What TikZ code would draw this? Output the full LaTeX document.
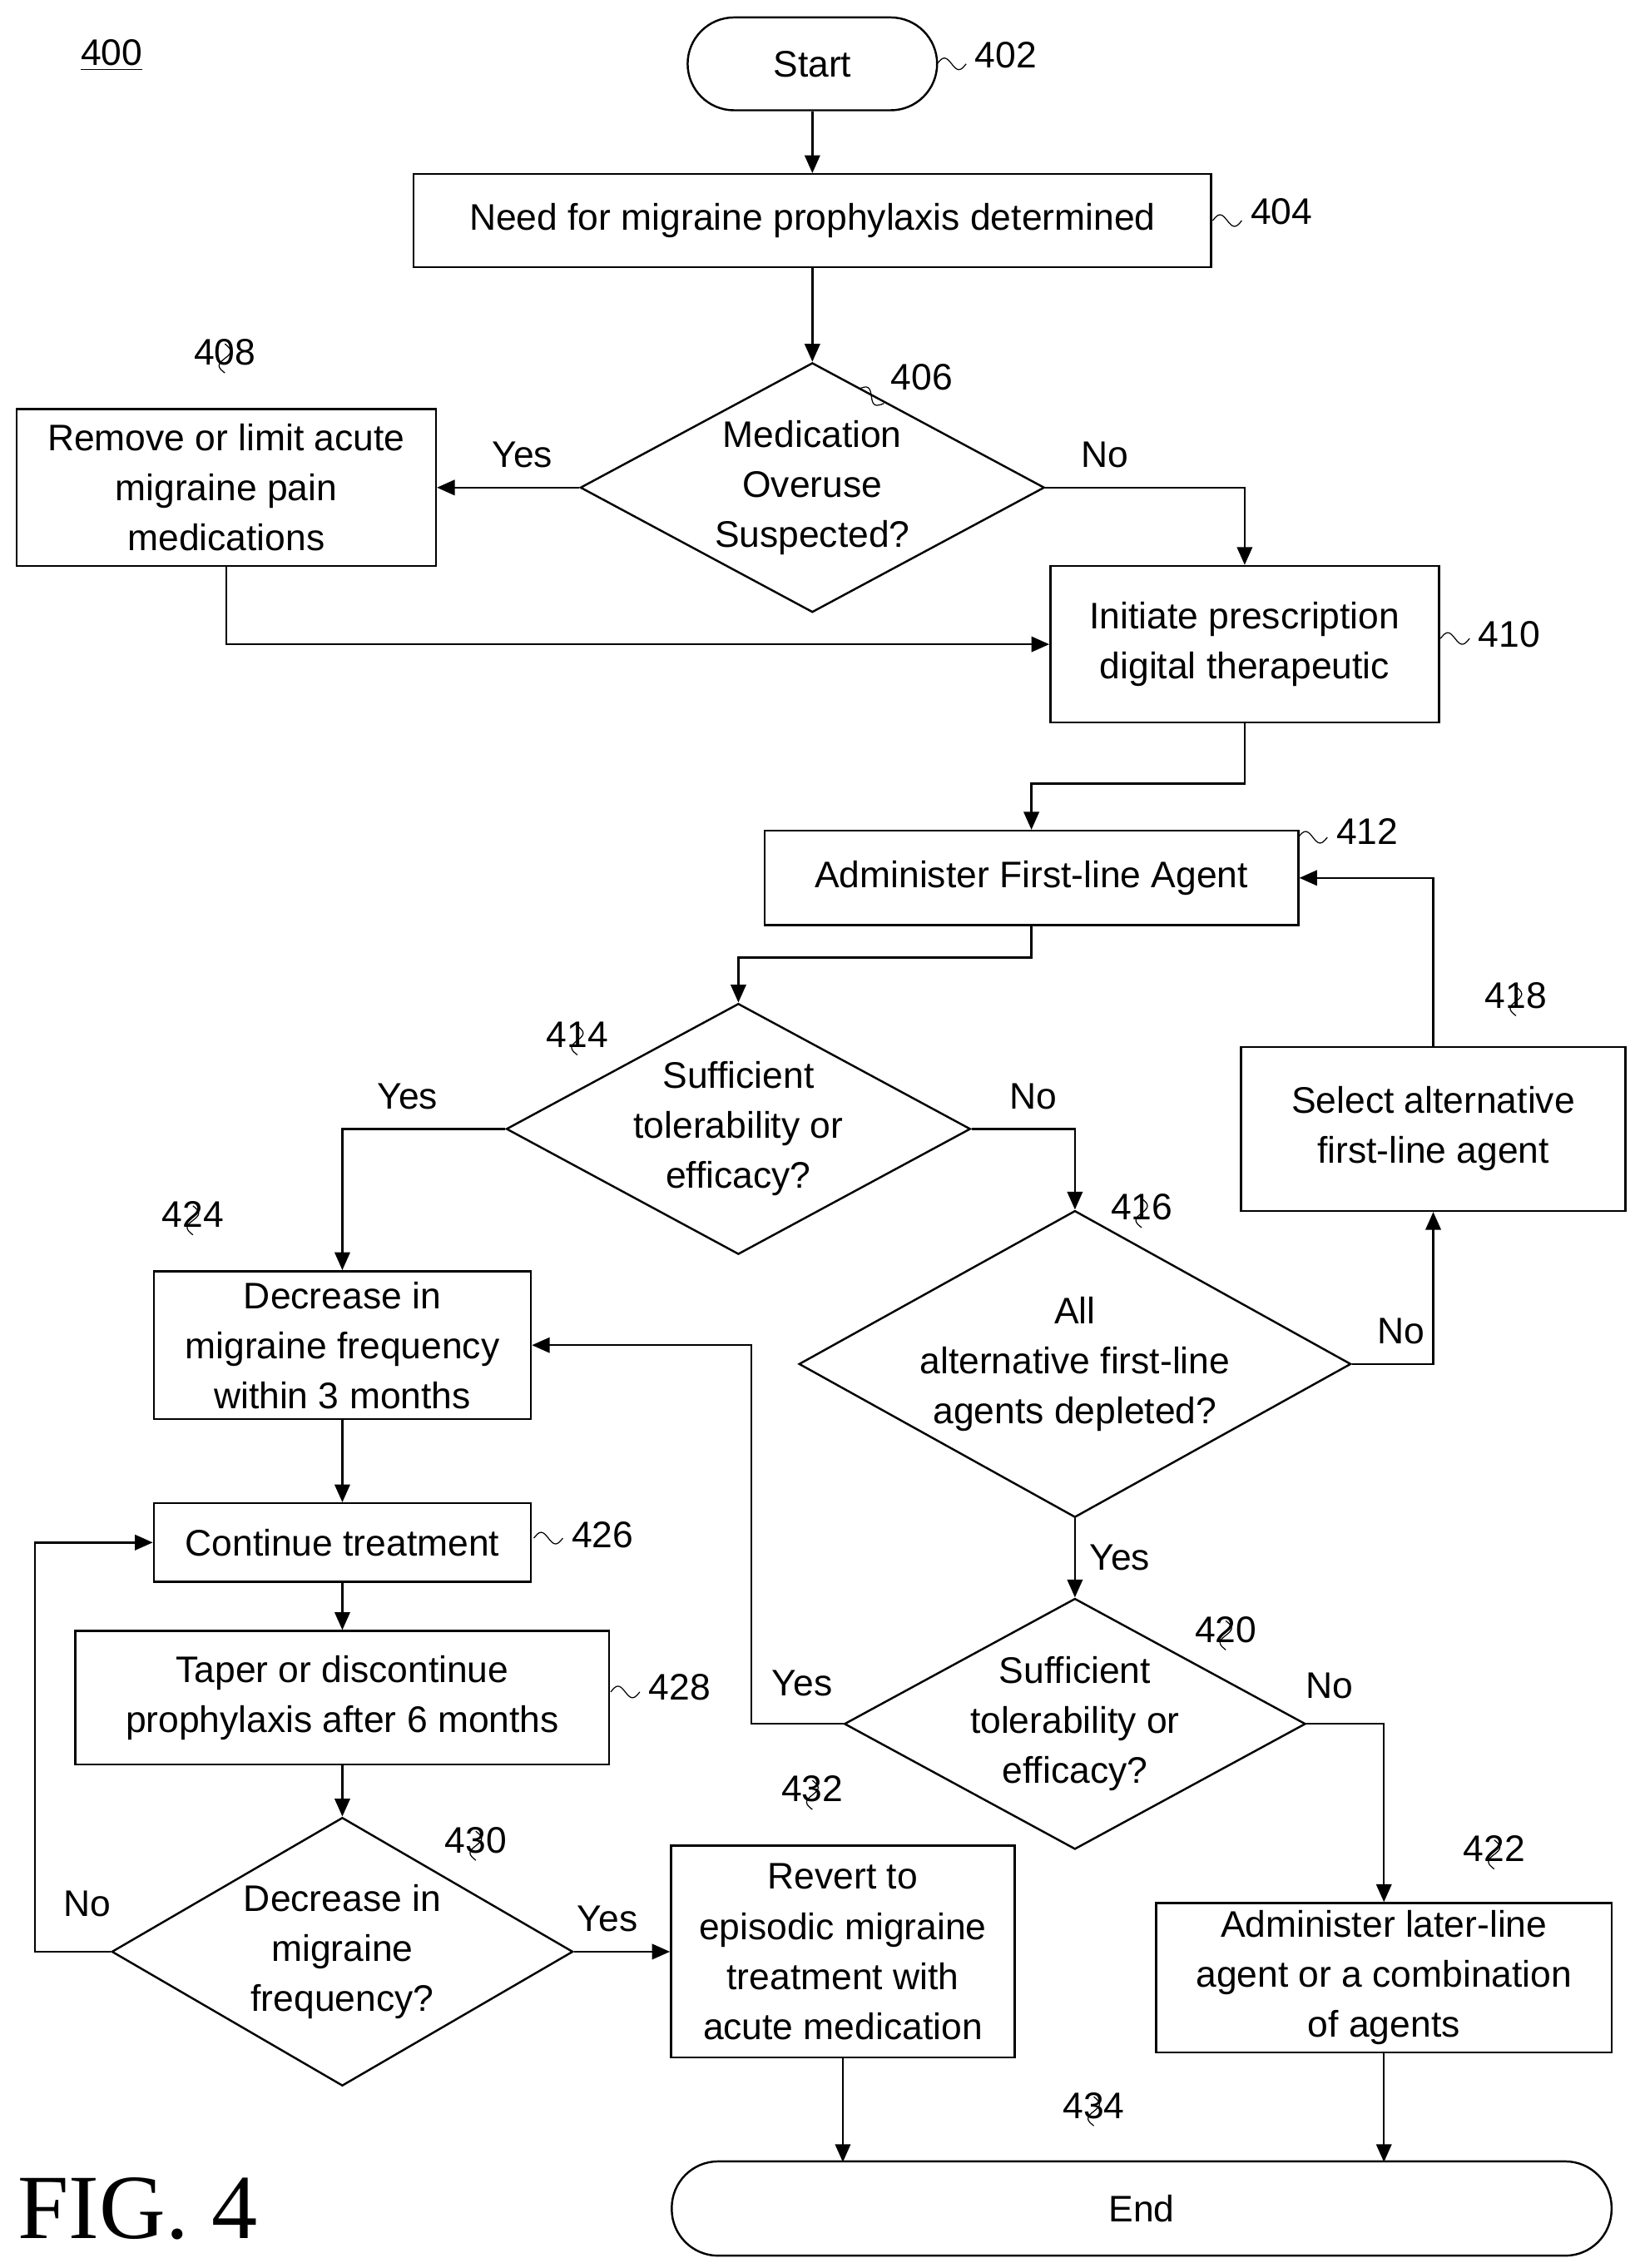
\documentclass[tikz,border=0pt]{standalone}
\usepackage{fontspec}
\setmainfont{Liberation Sans}
\newfontfamily\figfont{Liberation Serif}
\usetikzlibrary{arrows.meta,shapes.geometric}

\tikzset{
  box/.style={draw,thick,align=center,inner sep=0pt},
  dia/.style={draw,thick,diamond,align=center,inner sep=0pt,aspect=1.8},
  term/.style={draw,thick,rounded corners=0.64cm,inner sep=0pt},
  flow/.style={thick,-{Triangle[length=7pt,width=6pt]}},
  sq/.pic={\draw[thin] (0,0) sin (5,-4) cos (10,0) sin (15,4) cos (20,0);}
}

\begin{document}
\begin{tikzpicture}[x=0.02cm,y=-0.02cm,font=\fontsize{14.5}{19.6}\selectfont]
\useasboundingbox (0,0) rectangle (1130,1563);
% terminals and boxes
\node[term,minimum width=3.44cm,minimum height=1.28cm] (start) at (560,44) {Start};
\node[box,minimum width=11cm,minimum height=1.28cm] (need) at (560,152) {Need for migraine prophylaxis determined};
\node[dia,minimum width=6.4cm,minimum height=3.44cm] (overuse) at (560,336) {Medication\\Overuse\\Suspected?};
\node[box,minimum width=5.78cm,minimum height=2.16cm] (remove) at (156,336) {Remove or limit acute\\migraine pain\\medications};
\node[box,minimum width=5.36cm,minimum height=2.16cm] (pdt) at (858,444) {Initiate prescription\\digital therapeutic};
\node[box,minimum width=7.36cm,minimum height=1.3cm] (first) at (711,605) {Administer First-line Agent};
\node[dia,minimum width=6.4cm,minimum height=3.44cm] (tol1) at (509,778) {Sufficient\\tolerability or\\efficacy?};
\node[box,minimum width=5.3cm,minimum height=2.26cm] (alt) at (988,778) {Select alternative\\first-line agent};
\node[dia,minimum width=7cm,minimum height=3.8cm] (depleted) at (741,940) {All\\alternative first-line\\agents depleted?};
\node[box,minimum width=5.2cm,minimum height=2.04cm] (decr) at (236,927) {Decrease in\\migraine frequency\\within 3 months};
\node[box,minimum width=5.2cm,minimum height=1.08cm] (cont) at (236,1063) {Continue treatment};
\node[box,minimum width=7.36cm,minimum height=1.84cm] (taper) at (236,1170) {Taper or discontinue\\prophylaxis after 6 months};
\node[dia,minimum width=6.36cm,minimum height=3.44cm] (tol2) at (741,1188) {Sufficient\\tolerability or\\efficacy?};
\node[dia,minimum width=6.36cm,minimum height=3.7cm] (freq) at (236,1345) {Decrease in\\migraine\\frequency?};
\node[box,minimum width=4.74cm,minimum height=2.92cm] (revert) at (581,1345) {Revert to\\episodic migraine\\treatment with\\acute medication};
\node[box,minimum width=6.28cm,minimum height=2.06cm] (later) at (954,1363) {Administer later-line\\agent or a combination\\of agents};
\node[term,minimum width=12.96cm,minimum height=1.3cm] (end) at (787,1522) {End};

% connectors
\draw[flow] (start) -- (need);
\draw[flow] (need) -- (overuse);
\draw[flow] (overuse.west) -- (remove.east) node[pos=0.4,above=4pt] {Yes};
\draw[flow] (overuse.east) -| (pdt.north) node[pos=0.15,above=4pt] {No};
\draw[flow] (remove.south) |- (pdt.west);
\draw[flow] (pdt.south) |- (711,540) -- (first.north);
\draw[flow] (first.south) |- (509,660) -- (tol1.north);
\draw[flow] (tol1.west) -| (decr.north) node[pos=0.3,above=4pt] {Yes};
\draw[flow] (tol1.east) -| (depleted.north) node[pos=0.3,above=4pt] {No};
\draw[flow] (depleted.east) -| (alt.south) node[pos=0.3,above=4pt] {No};
\draw[flow] (alt.north) |- (first.east);
\draw[flow] (depleted.south) -- (tol2.north) node[midway,right=2pt] {Yes};
\draw[flow] (tol2.west) -| (518,927) -- (decr.east);
\node at (553,1160) {Yes};
\draw[flow] (tol2.east) -| (later.north) node[pos=0.15,above=6pt] {No};
\draw[flow] (decr) -- (cont);
\draw[flow] (cont) -- (taper);
\draw[flow] (taper) -- (freq);
\draw[flow] (freq.east) -- (revert.west) node[pos=0.35,above=4pt] {Yes};
\draw[flow] (freq.west) -| (24,1063) -- (cont.west);
\node at (60,1312) {No};
\draw[flow] (revert.south) -- (581,1490);
\draw[flow] (later.south) -- (954,1490);

% reference numerals
\node at (77,38) {\underline{400}};
\pic at (646,44) {sq}; \node[right] at (666,38) {402};
\pic at (836,152) {sq}; \node[right] at (856,146) {404};
\pic[rotate=-30] at (592,268) {sq}; \node[right] at (608,260) {406};
\pic at (993,440) {sq}; \node[right] at (1013,437) {410};
\pic at (895,577) {sq}; \node[right] at (915,573) {412};
\pic at (368,1060) {sq}; \node[right] at (388,1058) {426};
\pic at (421,1166) {sq}; \node[right] at (441,1163) {428};
\foreach \px/\py/\num in {155/243/408, 398/713/414, 787/832/416, 1045/686/418,
  845/1123/420, 1030/1274/422, 133/837/424, 328/1268/430, 560/1233/432, 754/1451/434}
{
  \node at (\px,\py) {\num};
  \pic[rotate=90] at (\px,\py+14) {sq};
}
\node at (95,1522) {\figfont\fontsize{36}{40}\selectfont FIG. 4};
\end{tikzpicture}
\end{document}
